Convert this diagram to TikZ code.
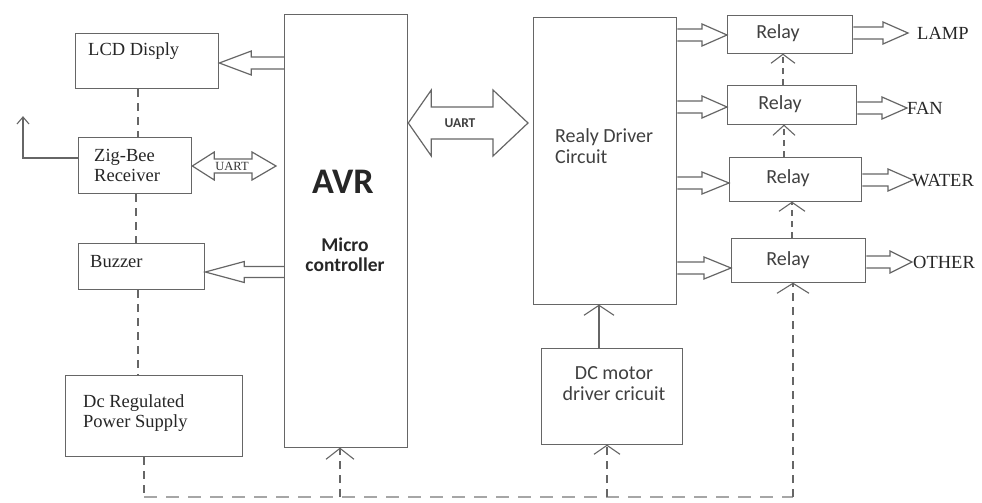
\documentclass[tikz,border=0pt]{standalone}
\usepackage{fontspec}
\setmainfont{Liberation Serif}
\newfontfamily\calib{Carlito}
\usetikzlibrary{calc}
\definecolor{lc}{gray}{0.4}
\tikzset{
  box/.style={draw=lc, line width=1.3pt, anchor=north west, inner sep=0pt},
  serif/.style={font=\fontsize{18.5}{20}\selectfont, text=black!85, inner sep=0pt},
  sans/.style={font=\calib\fontsize{20}{21}\selectfont, text=black!75, inner sep=0pt},
  blk/.style={draw=lc, line width=1.2pt, line join=miter},
  dsh/.style={draw=lc, line width=1.2pt, dash pattern=on 8pt off 6pt},
  bottomline/.style={draw=gray!70, line width=2pt, dash pattern=on 13pt off 9pt}
}
\newcommand\blockarrow[5]{%
  \draw[blk] let \p1=#1, \p2=#2, \n1={(\x2>\x1)?1:-1} in
    (\x1,\y1+#3) -- (\x2-\n1*#5,\y1+#3) -- (\x2-\n1*#5,\y1+#4) -- (\x2,\y1)
    -- (\x2-\n1*#5,\y1-#4) -- (\x2-\n1*#5,\y1-#3) -- (\x1,\y1-#3);}
\newcommand\dblarrow[6]{%
  \draw[blk] let \p1=#1, \p2=#2 in
    (\x1,\y1) -- (\x1+#5,\y1+#4) -- (\x1+#5,\y1+#3) -- (\x2-#6,\y1+#3) -- (\x2-#6,\y1+#4)
    -- (\x2,\y1) -- (\x2-#6,\y1-#4) -- (\x2-#6,\y1-#3) -- (\x1+#5,\y1-#3) -- (\x1+#5,\y1-#4) -- cycle;}
% open V head pointing up at #1, half width #2, length #3
\newcommand\vup[3]{%
  \draw[blk, line width=1.1pt] ($(#1)+(-#2,#3)$) -- (#1) -- ($(#1)+(#2,#3)$);}
\begin{document}
\begin{tikzpicture}[x=1pt,y=-1pt]
\useasboundingbox (0,0) rectangle (982,503);
% boxes
\node[box, minimum width=143pt, minimum height=55pt]  (lcd) at (75,33)  {};
\node[box, minimum width=113pt, minimum height=56pt]  (zig) at (78,137) {};
\node[box, minimum width=126pt, minimum height=46pt]  (buz) at (78,243) {};
\node[box, minimum width=177pt, minimum height=81pt]  (pwr) at (65,375) {};
\node[box, minimum width=123pt, minimum height=433pt] (avr) at (284,14) {};
\node[box, minimum width=143pt, minimum height=287pt] (drv) at (533,17) {};
\node[box, minimum width=125pt, minimum height=38pt]  (r1)  at (727,15) {};
\node[box, minimum width=129pt, minimum height=39pt]  (r2)  at (727,85) {};
\node[box, minimum width=132pt, minimum height=44pt]  (r3)  at (729,157) {};
\node[box, minimum width=134pt, minimum height=44pt]  (r4)  at (731,238) {};
\node[box, minimum width=141pt, minimum height=96pt]  (dcm) at (541,348) {};
% texts
\node[serif, anchor=west] (lcdt) at (88,51) {LCD Disply};
\node[serif, anchor=west, align=left] (zigt) at (94,165) {Zig-Bee\\Receiver};
\node[serif, anchor=west] (buzt) at (90,262) {Buzzer};
\node[serif, anchor=west, align=left] (pwrt) at (83,413) {Dc Regulated\\Power Supply};
\node[font=\calib\bfseries\fontsize{36}{38}\selectfont, text=black!85] (avrt) at (343,182) {AVR};
\node[font=\calib\bfseries\fontsize{19.5}{20}\selectfont, text=black!85, align=center] (mict) at (345,255) {Micro\\controller};
\node[sans, anchor=west, align=left] (drvt) at (555,146) {Realy Driver\\Circuit};
\node[sans] (r1t) at (778,33) {Relay};
\node[sans] (r2t) at (780,104) {Relay};
\node[sans] (r3t) at (788,178) {Relay};
\node[sans] (r4t) at (788,260) {Relay};
\node[sans, align=center] (dcmt) at (614,384) {DC motor\\driver cricuit};
\node[serif, anchor=west] (lamp)  at (917,33)  {LAMP};
\node[serif, anchor=west] (fan)   at (907,108) {FAN};
\node[serif, anchor=west] (water) at (912,181) {WATER};
\node[serif, anchor=west] (other) at (913,262) {OTHER};
% block arrows
\blockarrow{(avr.west |- 0,63)}{(lcd.east |- 0,63)}{6pt}{12pt}{32pt}
\blockarrow{(avr.west |- 0,272)}{(buz.east |- 0,272)}{5.5pt}{10.5pt}{39pt}
\blockarrow{(drv.east |- 0,35)}{(r1.west |- 0,35)}{6pt}{11pt}{25pt}
\blockarrow{(drv.east |- 0,107)}{(r2.west |- 0,107)}{6pt}{11pt}{25pt}
\blockarrow{(drv.east |- 0,183)}{(r3.west |- 0,183)}{6pt}{11pt}{27pt}
\blockarrow{(drv.east |- 0,268)}{(r4.west |- 0,268)}{6pt}{11pt}{27pt}
\coordinate (lampx) at (908,33);
\coordinate (fanx) at (907,108);
\coordinate (waterx) at (913,180);
\coordinate (otherx) at (912,262);
\blockarrow{(r1.east |- 0,33)}{(lampx)}{6pt}{11pt}{25pt}
\blockarrow{(r2.east |- 0,108)}{(fanx)}{6pt}{11pt}{25pt}
\blockarrow{(r3.east |- 0,180)}{(waterx)}{6pt}{11pt}{25pt}
\blockarrow{(r4.east |- 0,262)}{(otherx)}{6pt}{11pt}{22pt}
% UART double arrows
\dblarrow{(avr.east |- 0,123)}{(528,123)}{16pt}{33pt}{23pt}{35pt}
\node[font=\calib\bfseries\fontsize{13.5}{14}\selectfont, text=black!75] (uart1) at (460,123) {UART};
\coordinate (zuart) at (276,166);
\dblarrow{(zig.east |- 0,166)}{(zuart)}{7pt}{14pt}{22pt}{24pt}
\node[font=\fontsize{12.5}{13}\selectfont, text=black!80, inner sep=0pt] (uart2) at (232,166) {UART};
% antenna
\coordinate (ant1) at (23,158);
\coordinate (ant2) at (23,117);
\draw[blk] (zig.west |- ant1) -- (ant1) -- (ant2);
\vup{ant2}{6}{7}
% dashed links left column
\draw[dsh] (lcd.south -| 138,0) -- (zig.north -| 138,0);
\draw[dsh] (zig.south -| 136,0) -- (buz.north -| 136,0);
\draw[dsh] (buz.south -| 138,0) -- (pwr.north -| 138,0);
% bottom distribution
\coordinate (b0) at (144,497);
\coordinate (b1) at (340,497);
\coordinate (b2) at (607,497);
\coordinate (b3) at (793,497);
\coordinate (t1) at (avr.south -| b1);
\coordinate (t2) at (dcm.south -| b2);
\coordinate (t3) at (r4.south -| b3);
\draw[dsh] (pwr.south -| b0) -- (b0);
\draw[bottomline] (b0) -- (b3);
\draw[dsh] (b1) -- (t1); \vup{t1}{14}{11}
\draw[dsh] (b2) -- (t2); \vup{t2}{13}{9}
\draw[dsh] (b3) -- (t3); \vup{t3}{16}{10}
% DC motor to driver
\coordinate (t4) at (drv.south -| 599,0);
\draw[blk] (dcm.north -| t4) -- (t4); \vup{t4}{15}{10}
% relay chain
\coordinate (t5) at (r3.south -| 792,0);
\coordinate (t6) at (r2.south -| 784,0);
\coordinate (t7) at (r1.south -| 783,0);
\draw[dsh, dash pattern=on 6pt off 5pt] (r4.north -| t5) -- (t5); \vup{t5}{13}{9}
\draw[dsh, dash pattern=on 6pt off 5pt] (r3.north -| t6) -- (t6); \vup{t6}{11}{10}
\draw[dsh, dash pattern=on 6pt off 5pt] (r2.north -| t7) -- (t7); \vup{t7}{12}{9}
\end{tikzpicture}
\end{document}
